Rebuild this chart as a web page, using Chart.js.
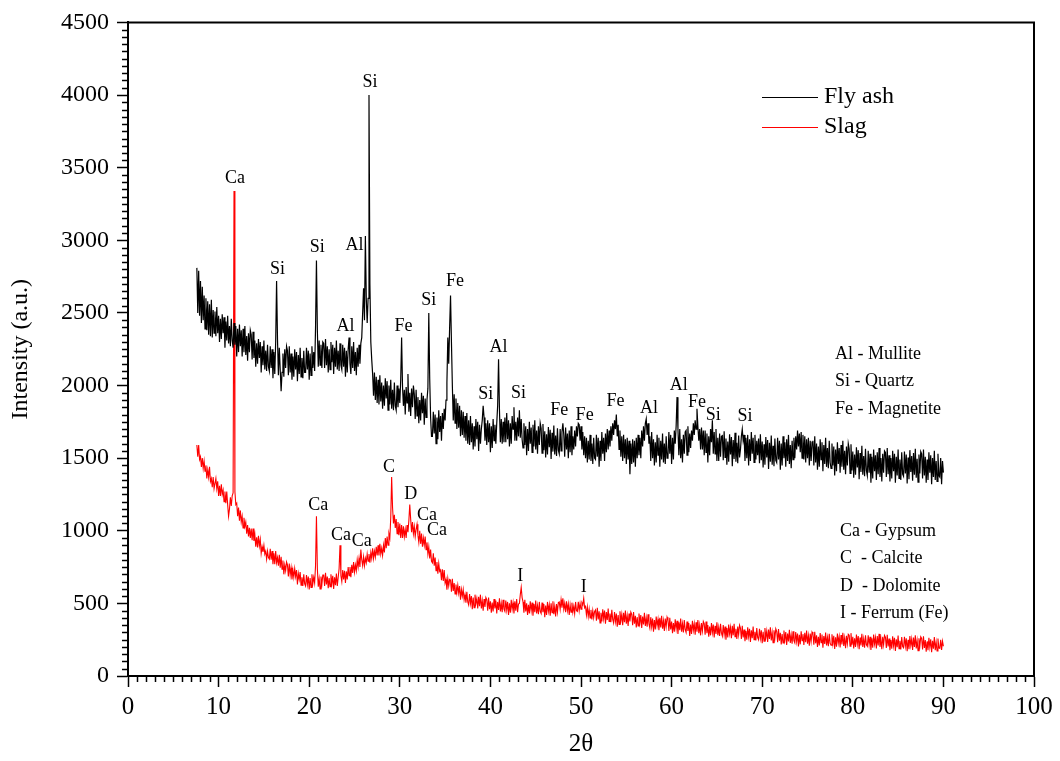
<!DOCTYPE html>
<html>
<head>
<meta charset="utf-8">
<script src="https://cdn.jsdelivr.net/npm/chart.js@4.4.0/dist/chart.umd.min.js"></script>
<style>
  html, body { margin: 0; padding: 0; background: #fff; }
  #wrap { width: 1060px; height: 761px; }
</style>
</head>
<body>
<div id="wrap"><canvas id="xrd" width="1060" height="761"></canvas></div>
<script>
// scan grid (2theta, degrees)
const scanStart = 7.6;
const scanStep = 0.1;

// intensities, one value per 0.1 deg, 2 deg per row
const flyAsh = [
  2810, 2500, 2790, 2480, 2720, 2430, 2680, 2450, 2620, 2390, 2600, 2380, 2580, 2350, 2560, 2340, 2590, 2330, 2520, 2360,
  2510, 2340, 2540, 2360, 2480, 2300, 2460, 2320, 2490, 2360, 2470, 2260, 2440, 2310, 2480, 2290, 2410, 2270, 2460, 2310,
  2260, 2430, 2280, 2410, 2200, 2390, 2230, 2420, 2270, 2380, 2200, 2390, 2230, 2410, 2210, 2340, 2170, 2360, 2230, 2380,
  2350, 2180, 2370, 2190, 2310, 2130, 2290, 2150, 2320, 2190, 2300, 2090, 2270, 2140, 2310, 2110, 2240, 2100, 2280, 2130,
  2100, 2270, 2120, 2250, 2050, 2230, 2080, 2300, 2720, 2320, 2070, 2260, 2110, 1960, 2090, 2220, 2060, 2250, 2120, 2270,
  2240, 2070, 2270, 2090, 2220, 2040, 2200, 2060, 2250, 2110, 2230, 2030, 2210, 2080, 2260, 2060, 2190, 2050, 2240, 2090,
  2090, 2260, 2110, 2240, 2040, 2220, 2070, 2270, 2120, 2230, 2100, 2400, 2860, 2380, 2130, 2310, 2140, 2280, 2120, 2300,
  2290, 2120, 2320, 2140, 2270, 2090, 2250, 2110, 2300, 2160, 2280, 2080, 2260, 2130, 2310, 2110, 2240, 2100, 2290, 2140,
  2110, 2280, 2130, 2260, 2060, 2240, 2090, 2250, 2330, 2150, 2080, 2270, 2120, 2300, 2100, 2230, 2070, 2260, 2130, 2280,
  2150, 2290, 2330, 2500, 2670, 2450, 3030, 2600, 2430, 2600, 4000, 2700, 2300, 2180, 2080, 1930, 2090, 1900, 2060, 1880,
  2040, 1870, 2070, 1890, 2020, 1840, 2000, 1860, 2050, 1910, 2030, 1830, 2000, 1870, 2040, 1840, 1970, 1830, 2020, 1860,
  1830, 2000, 1850, 1980, 1880, 2040, 2330, 1990, 1860, 1970, 1800, 1990, 1880, 2080, 1820, 1950, 1790, 1980, 1850, 2000,
  1940, 1770, 1970, 1790, 1920, 1740, 1900, 1760, 1950, 1810, 1930, 1730, 1910, 1780, 1900, 1980, 2500, 2050, 1780, 1650,
  1650, 1820, 1670, 1800, 1600, 1780, 1630, 1830, 1680, 1790, 1620, 1810, 1700, 1840, 1760, 1900, 2020, 2330, 2150, 2400,
  2620, 2300, 2000, 1760, 1940, 1740, 1910, 1700, 1880, 1710, 1860, 1650, 1830, 1660, 1820, 1640, 1790, 1620, 1810, 1600,
  1760, 1590, 1790, 1610, 1740, 1560, 1720, 1580, 1770, 1630, 1750, 1550, 1730, 1600, 1700, 1760, 1860, 1780, 1620, 1740,
  1590, 1760, 1610, 1740, 1540, 1720, 1570, 1770, 1620, 1730, 1600, 1740, 1860, 2180, 1830, 1610, 1770, 1600, 1750, 1610,
  1780, 1610, 1810, 1630, 1760, 1580, 1740, 1600, 1790, 1700, 1850, 1620, 1750, 1620, 1780, 1650, 1830, 1640, 1770, 1630,
  1570, 1740, 1590, 1720, 1520, 1700, 1550, 1750, 1600, 1710, 1540, 1730, 1580, 1760, 1560, 1690, 1530, 1720, 1590, 1740,
  1705, 1535, 1735, 1555, 1685, 1505, 1665, 1525, 1715, 1575, 1695, 1495, 1675, 1545, 1725, 1525, 1655, 1515, 1705, 1555,
  1530, 1700, 1550, 1680, 1740, 1660, 1510, 1710, 1560, 1670, 1500, 1690, 1540, 1720, 1520, 1650, 1560, 1690, 1580, 1720,
  1650, 1740, 1730, 1620, 1720, 1560, 1680, 1520, 1650, 1500, 1640, 1470, 1620, 1490, 1660, 1480, 1600, 1460, 1640, 1500,
  1490, 1660, 1510, 1640, 1440, 1620, 1480, 1680, 1530, 1640, 1480, 1670, 1540, 1700, 1560, 1690, 1580, 1720, 1620, 1740,
  1660, 1760, 1700, 1800, 1650, 1730, 1560, 1690, 1510, 1650, 1480, 1660, 1500, 1630, 1460, 1640, 1490, 1620, 1390, 1600,
  1460, 1630, 1470, 1620, 1440, 1640, 1500, 1660, 1520, 1640, 1500, 1690, 1580, 1720, 1620, 1740, 1770, 1660, 1740, 1600,
  1650, 1480, 1680, 1500, 1630, 1450, 1610, 1470, 1660, 1520, 1640, 1440, 1620, 1490, 1670, 1470, 1600, 1460, 1650, 1500,
  1510, 1680, 1530, 1660, 1460, 1640, 1490, 1690, 1600, 1720, 1920, 1700, 1520, 1700, 1500, 1630, 1470, 1660, 1530, 1680,
  1690, 1520, 1720, 1540, 1670, 1570, 1690, 1620, 1740, 1660, 1760, 1700, 1840, 1720, 1620, 1700, 1560, 1710, 1560, 1690,
  1520, 1690, 1540, 1670, 1470, 1650, 1520, 1700, 1610, 1760, 1530, 1680, 1530, 1700, 1480, 1640, 1480, 1670, 1510, 1650,
  1655, 1485, 1685, 1505, 1635, 1455, 1615, 1475, 1665, 1525, 1645, 1445, 1625, 1495, 1675, 1475, 1605, 1465, 1655, 1505,
  1560, 1650, 1700, 1620, 1660, 1480, 1640, 1500, 1660, 1450, 1630, 1480, 1680, 1530, 1640, 1470, 1660, 1490, 1620, 1520,
  1635, 1465, 1665, 1485, 1615, 1435, 1595, 1455, 1645, 1505, 1625, 1425, 1605, 1475, 1655, 1455, 1585, 1445, 1635, 1485,
  1470, 1640, 1490, 1620, 1420, 1600, 1450, 1650, 1500, 1610, 1440, 1630, 1480, 1660, 1460, 1590, 1430, 1620, 1490, 1640,
  1500, 1650, 1560, 1690, 1580, 1670, 1540, 1680, 1500, 1660, 1490, 1650, 1470, 1630, 1500, 1640, 1450, 1620, 1480, 1610,
  1620, 1450, 1650, 1470, 1600, 1420, 1580, 1440, 1630, 1490, 1610, 1410, 1590, 1460, 1640, 1440, 1570, 1430, 1620, 1470,
  1430, 1600, 1450, 1580, 1380, 1560, 1410, 1610, 1460, 1570, 1400, 1590, 1440, 1620, 1420, 1550, 1390, 1580, 1450, 1600,
  1565, 1395, 1595, 1415, 1545, 1365, 1525, 1385, 1575, 1435, 1555, 1355, 1535, 1405, 1585, 1385, 1515, 1375, 1565, 1415,
  1380, 1550, 1400, 1530, 1330, 1510, 1360, 1560, 1410, 1520, 1350, 1540, 1390, 1570, 1370, 1500, 1340, 1530, 1400, 1550,
  1540, 1370, 1570, 1390, 1520, 1340, 1500, 1360, 1550, 1410, 1530, 1330, 1510, 1380, 1560, 1360, 1490, 1350, 1540, 1390,
  1375, 1545, 1395, 1525, 1325, 1505, 1355, 1555, 1405, 1515, 1345, 1535, 1385, 1565, 1365, 1495, 1335, 1525, 1395, 1545,
  1530, 1360, 1560, 1380, 1510, 1330, 1490, 1350, 1540, 1400, 1520, 1320, 1500, 1370, 1550, 1350, 1480, 1340, 1530, 1380,
  1370, 1500, 1320, 1480, 1400
];

const slag = [
  1590, 1510, 1590, 1490, 1510, 1440, 1500, 1430, 1480, 1410, 1450, 1360, 1420, 1370, 1440, 1340, 1360, 1300, 1370, 1290,
  1290, 1360, 1290, 1340, 1240, 1310, 1240, 1320, 1250, 1280, 1200, 1270, 1190, 1270, 1180, 1100, 1150, 1230, 1170, 1240,
  1260, 3340, 1270, 1180, 1190, 1100, 1160, 1070, 1140, 1060, 1100, 1020, 1090, 1030, 1060, 980, 1040, 960, 1020, 950,
  1015, 935, 1015, 930, 975, 890, 955, 885, 965, 895, 940, 845, 890, 855, 900, 840, 860, 805, 860, 815,
  805, 875, 800, 860, 770, 845, 770, 860, 780, 815, 760, 835, 745, 820, 735, 795, 700, 765, 725, 785,
  765, 685, 775, 695, 745, 665, 730, 680, 740, 685, 730, 630, 705, 665, 715, 625, 680, 620, 700, 635,
  620, 695, 630, 685, 595, 675, 610, 700, 635, 680, 640, 760, 1100, 740, 615, 670, 600, 685, 630, 695,
  695, 620, 710, 630, 685, 605, 675, 615, 700, 635, 690, 600, 680, 625, 705, 620, 680, 740, 900, 690,
  650, 730, 665, 725, 640, 720, 665, 750, 690, 750, 680, 765, 710, 785, 715, 765, 725, 800, 750, 810,
  750, 870, 800, 760, 820, 760, 810, 780, 840, 790, 840, 780, 850, 810, 880, 810, 860, 820, 890, 830,
  900, 830, 910, 840, 880, 830, 900, 850, 950, 880, 960, 900, 980, 950, 1090, 1370, 1160, 1050, 1110, 1020,
  1080, 980, 1060, 970, 1050, 950, 1040, 950, 1030, 960, 1010, 950, 1040, 990, 1070, 1180, 1080, 990, 1060, 980,
  1030, 960, 1010, 1045, 970, 920, 1000, 910, 980, 890, 950, 900, 960, 870, 920, 840, 890, 810, 870, 790,
  780, 845, 760, 815, 725, 785, 705, 775, 720, 730, 660, 735, 655, 730, 640, 665, 595, 670, 620, 665,
  660, 580, 670, 585, 640, 565, 630, 575, 625, 570, 620, 525, 595, 550, 595, 525, 560, 505, 580, 510,
  490, 565, 500, 550, 460, 540, 470, 560, 500, 535, 465, 545, 480, 560, 465, 520, 450, 530, 475, 540,
  525, 450, 540, 460, 515, 435, 505, 445, 530, 465, 520, 430, 510, 455, 535, 445, 500, 440, 525, 460,
  445, 520, 455, 510, 420, 500, 435, 525, 460, 505, 430, 515, 450, 530, 440, 495, 500, 560, 610, 540,
  510, 435, 525, 445, 500, 420, 490, 430, 515, 450, 505, 415, 495, 440, 520, 430, 485, 425, 510, 445,
  430, 505, 440, 495, 405, 485, 420, 510, 445, 490, 415, 500, 435, 515, 425, 480, 410, 495, 440, 505,
  510, 460, 525, 470, 535, 460, 500, 440, 515, 450, 495, 420, 490, 440, 505, 440, 480, 430, 510, 450,
  445, 510, 450, 500, 460, 505, 490, 535, 470, 480, 420, 475, 410, 460, 400, 455, 390, 450, 400, 445,
  455, 380, 470, 390, 445, 365, 435, 375, 460, 395, 450, 360, 440, 385, 465, 375, 430, 370, 455, 390,
  365, 440, 375, 430, 340, 420, 355, 445, 380, 425, 350, 435, 370, 450, 360, 415, 345, 430, 375, 440,
  425, 350, 440, 360, 415, 335, 405, 345, 430, 365, 420, 330, 410, 355, 435, 345, 400, 340, 425, 360,
  330, 405, 340, 395, 305, 385, 320, 410, 345, 390, 315, 400, 335, 415, 325, 380, 310, 395, 340, 405,
  385, 310, 400, 320, 375, 295, 365, 305, 390, 325, 380, 290, 370, 315, 395, 305, 360, 300, 385, 320,
  300, 375, 310, 365, 275, 355, 290, 380, 315, 360, 285, 370, 305, 385, 295, 350, 280, 365, 310, 375,
  360, 285, 375, 295, 350, 270, 340, 280, 365, 300, 355, 265, 345, 290, 370, 280, 335, 275, 360, 295,
  275, 350, 285, 340, 250, 330, 265, 355, 290, 335, 260, 345, 280, 360, 270, 325, 255, 340, 285, 350,
  330, 255, 345, 265, 320, 240, 310, 250, 335, 270, 325, 235, 315, 260, 340, 250, 305, 245, 330, 265,
  250, 325, 260, 315, 225, 305, 240, 330, 265, 310, 235, 320, 255, 335, 245, 300, 230, 315, 260, 325,
  308, 233, 323, 243, 298, 218, 288, 228, 313, 248, 303, 213, 293, 238, 318, 228, 283, 223, 308, 243,
  228, 303, 238, 293, 203, 283, 218, 308, 243, 288, 213, 298, 233, 313, 223, 278, 208, 293, 238, 303,
  290, 215, 305, 225, 280, 200, 270, 210, 295, 230, 285, 195, 275, 220, 300, 210, 265, 205, 290, 225,
  212, 287, 222, 277, 187, 267, 202, 292, 227, 272, 197, 282, 217, 297, 207, 262, 192, 277, 222, 287,
  280, 205, 295, 215, 270, 190, 260, 200, 285, 220, 275, 185, 265, 210, 290, 200, 255, 195, 280, 215,
  205, 280, 215, 270, 180, 260, 195, 285, 220, 265, 190, 275, 210, 290, 200, 255, 185, 270, 215, 280,
  268, 193, 283, 203, 258, 178, 248, 188, 273, 208, 263, 173, 253, 198, 278, 188, 243, 183, 268, 203,
  195, 270, 205, 260, 170, 250, 185, 275, 210, 255, 180, 265, 200, 280, 190, 245, 175, 260, 205, 270,
  258, 183, 273, 193, 248, 168, 238, 178, 263, 198, 253, 163, 243, 188, 268, 178, 233, 173, 258, 193,
  190, 250, 180, 240, 205
];

const xTickValues = [0, 10, 20, 30, 40, 50, 60, 70, 80, 90, 100];
const yTickValues = [0, 500, 1000, 1500, 2000, 2500, 3000, 3500, 4000, 4500];

const seriesNames = ['Fly ash', 'Slag'];
const seriesColors = ['#000000', '#ff0000'];

// peak labels: phase symbol, 2theta and intensity where the label sits
const peakNames = ['Si', 'Si', 'Al', 'Si', 'Al', 'Fe', 'Si', 'Fe', 'Al', 'Si', 'Si',
                   'Fe', 'Fe', 'Fe', 'Al', 'Al', 'Fe', 'Si', 'Si',
                   'Ca', 'Ca', 'Ca', 'Ca', 'C', 'D', 'Ca', 'Ca', 'I', 'I'];
const peakTheta = [16.5, 20.9, 25.0, 26.7, 24.0, 30.4, 33.2, 36.1, 40.9, 39.5, 43.1,
                   47.6, 50.4, 53.8, 57.5, 60.8, 62.8, 64.6, 68.1,
                   11.8, 21.0, 23.5, 25.8, 28.8, 31.2, 33.0, 34.1, 43.3, 50.3];
const peakIntensity = [2800, 2955, 2965, 4090, 2410, 2410, 2585, 2715, 2265, 1940, 1945,
                       1830, 1795, 1890, 1845, 2005, 1885, 1795, 1790,
                       3430, 1175, 970, 925, 1435, 1250, 1110, 1000, 690, 610];

const flyAshKey = ['Al - Mullite', 'Si - Quartz', 'Fe - Magnetite'];
const slagKey = ['Ca - Gypsum', 'C  - Calcite', 'D  - Dolomite', 'I - Ferrum (Fe)'];

const serif = "'Liberation Serif', 'Times New Roman', serif";

function toPoints(values) {
  return values.map((v, i) => ({ x: +(scanStart + i * scanStep).toFixed(1), y: v }));
}

const decor = {
  id: 'decor',
  afterDraw(chart) {
    const ctx = chart.ctx;
    const area = chart.chartArea;
    const xs = chart.scales.x, ys = chart.scales.y;
    ctx.save();
    ctx.strokeStyle = '#000';
    ctx.lineWidth = 2;
    // frame top and right
    ctx.beginPath();
    ctx.moveTo(area.left, area.top);
    ctx.lineTo(area.right, area.top);
    ctx.lineTo(area.right, area.bottom);
    ctx.stroke();
    // minor ticks
    ctx.lineWidth = 1.5;
    ctx.beginPath();
    for (let t = 1; t < 100; t++) {
      if (t % 10 === 0) continue;
      const px = Math.round(xs.getPixelForValue(t)) + 0.5;
      ctx.moveTo(px, area.bottom);
      ctx.lineTo(px, area.bottom + 6);
    }
    for (let v = 50; v < 4500; v += 50) {
      if (v % 500 === 0) continue;
      const py = Math.round(ys.getPixelForValue(v)) + 0.5;
      ctx.moveTo(area.left, py);
      ctx.lineTo(area.left - 6, py);
    }
    ctx.stroke();

    // legend
    ctx.font = '24px ' + serif;
    ctx.textBaseline = 'middle';
    ctx.textAlign = 'left';
    seriesNames.forEach((name, i) => {
      const y = 97 + i * 30;
      ctx.strokeStyle = seriesColors[i];
      ctx.lineWidth = 1;
      ctx.beginPath();
      ctx.moveTo(762, y + 0.5);
      ctx.lineTo(818, y + 0.5);
      ctx.stroke();
      ctx.fillStyle = '#000';
      ctx.fillText(name, 824, y);
    });

    // phase keys
    ctx.font = '18px ' + serif;
    flyAshKey.forEach((s, i) => ctx.fillText(s, 835, 354 + i * 27.5));
    slagKey.forEach((s, i) => ctx.fillText(s, 840, 531 + i * 27.5));

    // peak labels
    ctx.textAlign = 'center';
    peakNames.forEach((s, i) => {
      ctx.fillText(s, xs.getPixelForValue(peakTheta[i]), ys.getPixelForValue(peakIntensity[i]));
    });
    ctx.restore();
  }
};

new Chart(document.getElementById('xrd'), {
  type: 'line',
  data: {
    datasets: [{
      label: seriesNames[0],
      data: toPoints(flyAsh),
      borderColor: seriesColors[0],
      borderWidth: 1.2,
      pointRadius: 0,
      tension: 0
    }, {
      label: seriesNames[1],
      data: toPoints(slag),
      borderColor: seriesColors[1],
      borderWidth: 1.1,
      pointRadius: 0,
      tension: 0
    }]
  },
  plugins: [decor],
  options: {
    responsive: false,
    animation: false,
    layout: { padding: { top: 16, right: 26, left: 0, bottom: 0 } },
    plugins: {
      legend: { display: false },
      tooltip: { enabled: false }
    },
    scales: {
      x: {
        type: 'linear',
        min: 0,
        max: 100,
        afterBuildTicks: s => { s.ticks = xTickValues.map(v => ({ value: v })); },
        afterFit: s => { s.height = 85; },
        ticks: { autoSkip: false, maxRotation: 0, padding: 5, color: '#000',
                 font: { family: serif, size: 25 }, callback: v => String(v) },
        grid: { drawOnChartArea: false, tickLength: 11, tickWidth: 1.5, color: '#000' },
        border: { color: '#000', width: 2 },
        title: { display: true, text: '2θ', color: '#000', font: { family: serif, size: 25 }, padding: { top: 0, bottom: 2 } }
      },
      y: {
        min: 0,
        max: 4500,
        afterBuildTicks: s => { s.ticks = yTickValues.map(v => ({ value: v })); },
        afterFit: s => { s.width = 128; },
        ticks: { padding: 8, color: '#000', font: { family: serif, size: 24 }, callback: v => String(v) },
        grid: { drawOnChartArea: false, tickLength: 11, tickWidth: 1.5, color: '#000' },
        border: { color: '#000', width: 2 },
        title: { display: true, text: 'Intensity (a.u.)', color: '#000', font: { family: serif, size: 24 }, padding: { top: 6, bottom: 0 } }
      }
    }
  }
});
</script>
</body>
</html>
